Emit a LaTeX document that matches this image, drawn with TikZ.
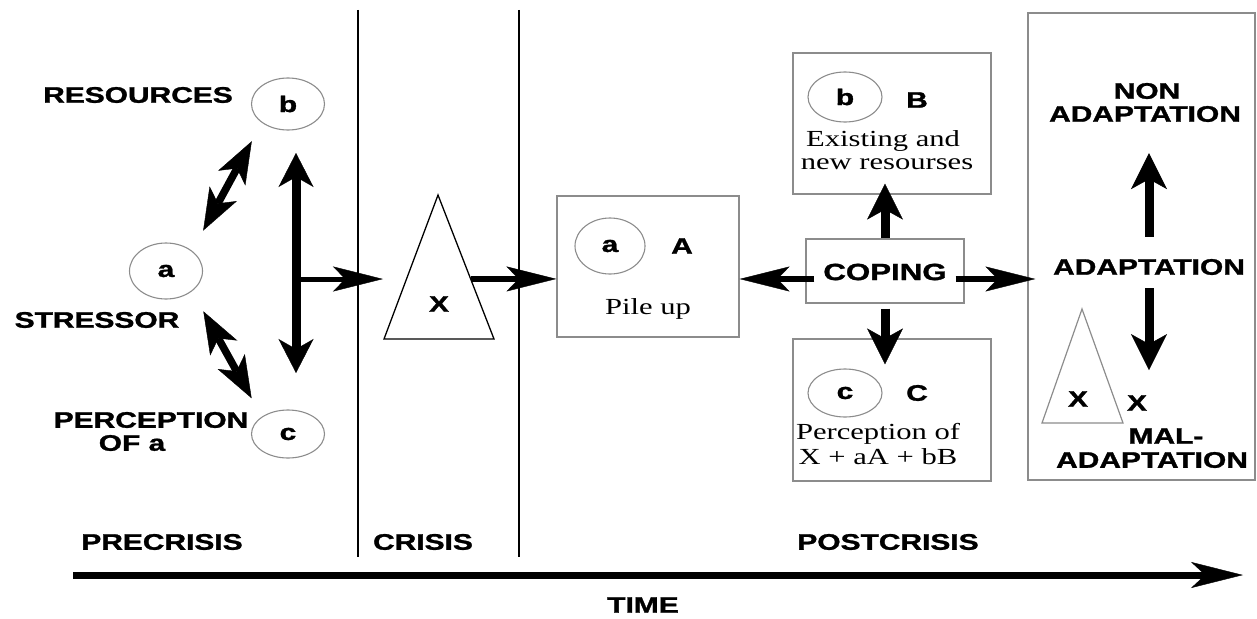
\documentclass[tikz,border=0pt]{standalone}
\usepackage{fontspec}
\usepackage{graphicx}
\setmainfont{Liberation Serif}
\newfontfamily\hvfont[BoldFeatures={FakeBold=1.2}]{Liberation Sans}
\usetikzlibrary{arrows.meta,calc,shapes.geometric}
\newcommand{\stretchx}[1]{\scalebox{1.33}[1]{#1}}
\tikzset{
	lbl/.style={font=\hvfont\bfseries\fontsize{22.5}{25}\selectfont, inner sep=0pt},
	txt/.style={font=\fontsize{23}{27}\selectfont, inner sep=0pt, anchor=base},
	gbox/.style={draw=black!45, line width=1.2pt, inner sep=0pt},
	oval/.style={ellipse, draw=black!45, line width=1.1pt, inner sep=0pt, font=\hvfont\bfseries\fontsize{22.5}{25}\selectfont},
	harr/.style={line width=6.5pt, -{Stealth[length=50pt,width=25pt,inset=12pt,line width=0.4pt]}},
	varr/.style={line width=9pt, -{Stealth[length=36pt,width=36pt,inset=10pt,line width=0.4pt]}},
	vdbl/.style={line width=9pt, {Stealth[length=34pt,width=35pt,inset=10pt,line width=0.4pt]}-{Stealth[length=34pt,width=35pt,inset=10pt,line width=0.4pt]}},
	darr/.style={line width=7.5pt, {Stealth[length=42pt,width=31pt,inset=11pt,line width=0.4pt]}-{Stealth[length=42pt,width=31pt,inset=11pt,line width=0.4pt]}},
	tarr/.style={line width=7pt, -{Stealth[length=52pt,width=26pt,inset=14pt,line width=0.4pt]}},
}

\begin{document}
\begin{tikzpicture}[x=1pt, y=-1pt]
			\useasboundingbox (0,0) rectangle (1257,618);
			%%%%% PHASE LINES %%%%%
			\draw[line width=1.3pt] (358,10) -- (358,557);
			\draw[line width=1.3pt] (519,10) -- (519,557);
			
			%%%%% PRECRISIS %%%%%
			\node[lbl] (res) at (138,95) {\stretchx{RESOURCES}};
			\node[oval, minimum width=73, minimum height=52] (b1) at (288,104) {\stretchx{b}};
			\node[oval, minimum width=73, minimum height=56] (a1) at (166,271) {\stretchx{a}};
			\node[lbl] (stress) at (97,320) {\stretchx{STRESSOR}};
			\node[lbl] (perc) at (151,420) {\stretchx{PERCEPTION}};
			\node[lbl] (ofa) at (132,443) {\stretchx{OF a}};
			\node[oval, minimum width=73, minimum height=48] (c1) at (288,434) {\stretchx{c}};
			
			\draw[darr, shorten <=23pt, shorten >=21pt] (a1.north east) -- (b1.south west);
			\draw[darr, shorten <=23pt, shorten >=21pt] (a1.south east) -- (c1.north west);
			
			\coordinate (vtop) at (296,153);
			\coordinate (vbot) at (296,373);
			\coordinate (vmid) at (296,279);
			\coordinate (xin) at (383,279);
			\draw[vdbl] (vtop) -- (vbot);
			\draw[harr, line width=5pt] (vmid) -- (xin);
			
			%%%%% CRISIS %%%%%
			\coordinate (xtop) at (438,195);
			\coordinate (xleft) at (384,339);
			\coordinate (xright) at (494,339);
			\draw[line width=1.3pt] (xtop) -- (xleft) -- (xright) -- cycle;
			\node[lbl] (xcrisis) at (439,304) {\stretchx{X}};
			\coordinate (xout) at ($(xtop)!0.583!(xright)$);
			
			%%%%% POSTCRISIS %%%%%
			\node[gbox, minimum width=182, minimum height=141] (pile) at (648,266.5) {};
			\node[oval, minimum width=70, minimum height=56] (a2) at (610,246) {\stretchx{a}};
			\node[lbl] (bigA) at (682,246) {\stretchx{A}};
			\node[txt] (pileup) at (648,314) {\stretchx{Pile up}};
			\draw[harr, line width=6pt] (xout) -- (xout -| pile.west);
			
			\node[gbox, minimum width=198, minimum height=141] (boxB) at (892,123.5) {};
			\node[oval, minimum width=74, minimum height=50] (b2) at (845,97) {\stretchx{b}};
			\node[lbl] (bigB) at (917,100) {\stretchx{B}};
			\node[txt] (exist) at (883,146) {\stretchx{Existing and}};
			\node[txt] (newres) at (887,169) {\stretchx{new resourses}};
			
			\node[gbox, minimum width=158, minimum height=64] (coping) at (885,271) {};
			\node[lbl, font=\hvfont\bfseries\fontsize{23.5}{26}\selectfont] (copetxt) at (885,272) {\stretchx{COPING}};
			
			\node[gbox, minimum width=198, minimum height=142] (boxC) at (892,410) {};
			\node[oval, minimum width=74, minimum height=48] (c2) at (845,393) {\stretchx{c}};
			\node[lbl] (bigC) at (917,393) {\stretchx{C}};
			\node[txt] (percof) at (878,439) {\stretchx{Perception of}};
			\node[txt] (sumtxt) at (878,464) {\stretchx{X + aA + bB}};
			
			\node[gbox, minimum width=227, minimum height=467] (adapt) at (1141.5,246.5) {};
			\node[lbl] (non1) at (1147,91) {\stretchx{NON}};
			\node[lbl] (non2) at (1145,114) {\stretchx{ADAPTATION}};
			\node[lbl] (adok) at (1149,267) {\stretchx{ADAPTATION}};
			\node[lbl] (mal1) at (1166,436) {\stretchx{MAL-}};
			\node[lbl] (mal2) at (1152,460) {\stretchx{ADAPTATION}};
			\coordinate (stop) at (1082,309);
			\coordinate (sleft) at (1042,423);
			\coordinate (sright) at (1123,423);
			\draw[draw=black!45, line width=1.2pt] (stop) -- (sleft) -- (sright) -- cycle;
			\node[lbl] (xsmall) at (1078,399) {\stretchx{X}};
			\node[lbl] (xside) at (1137,403) {\stretchx{X}};
			
			% coping arrows
			\coordinate (lvl) at (0,279);
			\draw[harr, shorten <=-9pt] (coping.west |- lvl) -- (pile.east |- lvl);
			\draw[harr, shorten <=-9pt, shorten >=-8pt] (coping.east |- lvl) -- (adapt.west |- lvl);
			\draw[varr, shorten >=-11pt] (coping.north) -- (coping.north |- boxB.south);
			\draw[varr, shorten <=5pt, shorten >=-26pt] (coping.south) -- (coping.south |- boxC.north);
			\draw[varr, shorten <=22pt, shorten >=31pt] (adok.north) -- (adok.north |- non2.south);
			\draw[varr, shorten <=13pt, shorten >=58pt] (adok.south) -- (adok.south |- mal1.north);
			
			%%%%% TIME AXIS %%%%%
			\node[lbl] (pre) at (162,542) {\stretchx{PRECRISIS}};
			\node[lbl] (cri) at (423,542) {\stretchx{CRISIS}};
			\node[lbl] (post) at (888,542) {\stretchx{POSTCRISIS}};
			\coordinate (t0) at (73,575);
			\coordinate (t1) at (1243,575);
			\draw[tarr] (t0) -- (t1);
			\node[lbl] (time) at (643,605) {\stretchx{TIME}};
\end{tikzpicture}
\end{document}
